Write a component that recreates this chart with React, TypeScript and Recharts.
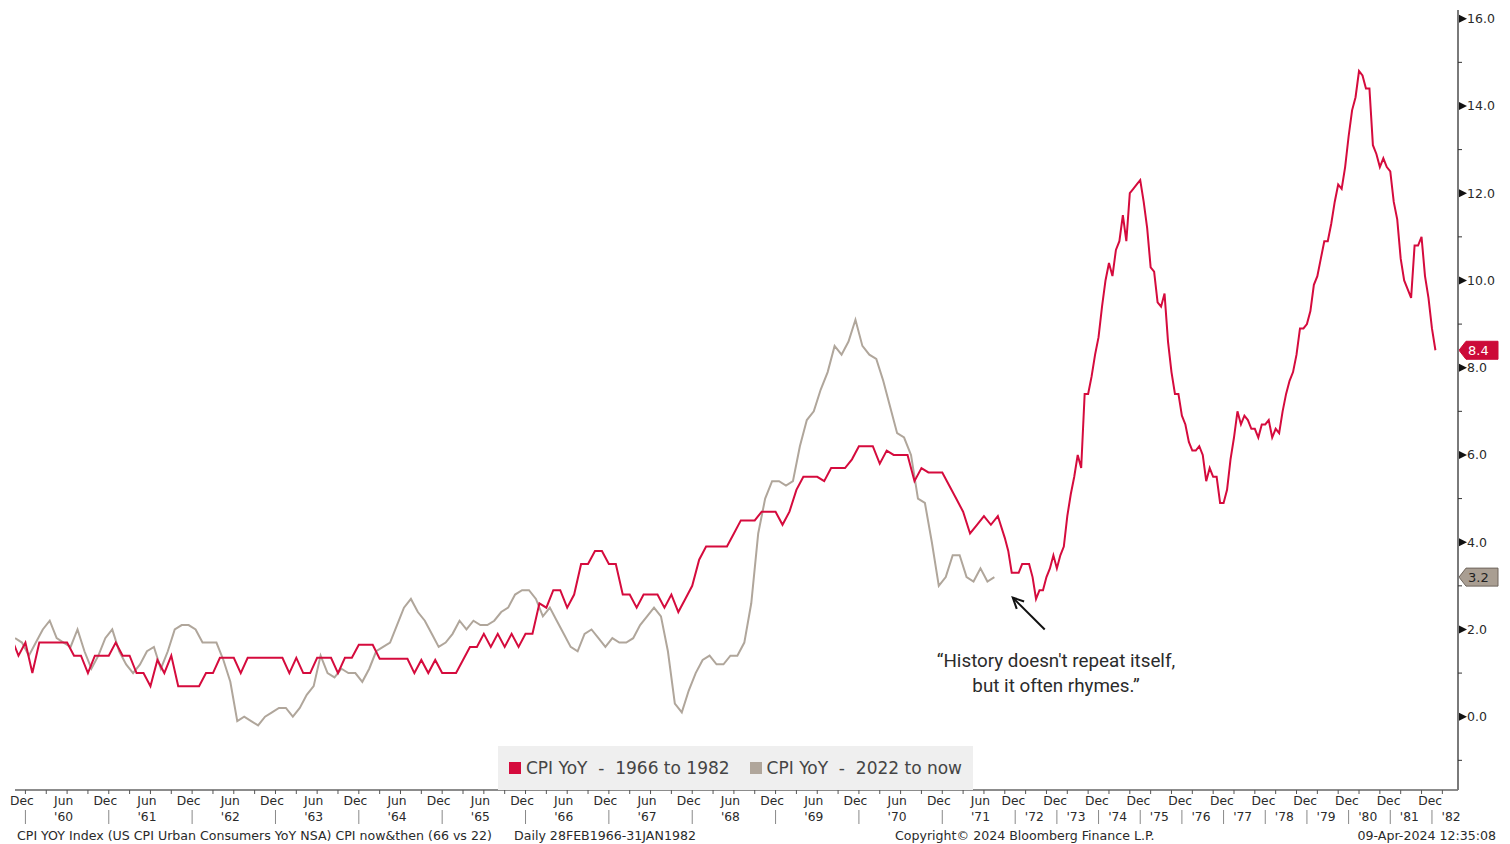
import { LineChart, Line, XAxis, YAxis, ReferenceLine } from 'recharts';

// US CPI YoY, monthly. Red: Oct 1959 .. Jan 1982, gray: May 2012 .. Feb 2024 (overlaid)
const red1959to1964 = [
  1.8, 1.4, 1.7,
  1.0, 1.7, 1.7, 1.7, 1.7, 1.7, 1.4, 1.4, 1.0, 1.4, 1.4, 1.4,
  1.7, 1.4, 1.4, 1.0, 1.0, 0.7, 1.3, 1.0, 1.4, 0.7, 0.7, 0.7,
  0.7, 1.0, 1.0, 1.35, 1.35, 1.35, 1.0, 1.35, 1.35, 1.35, 1.35, 1.35,
  1.35, 1.0, 1.35, 1.0, 1.0, 1.35, 1.35, 1.35, 1.0, 1.35, 1.35, 1.65,
  1.65, 1.65, 1.33, 1.33, 1.33, 1.33, 1.33, 1.0, 1.3, 1.0, 1.3, 1.0,
];
const red1965to1971 = [
  1.0, 1.0, 1.3, 1.6, 1.6, 1.9, 1.6, 1.9, 1.6, 1.9, 1.6, 1.9,
  1.9, 2.6, 2.5, 2.9, 2.9, 2.5, 2.8, 3.5, 3.5, 3.8, 3.8, 3.5,
  3.5, 2.8, 2.8, 2.5, 2.8, 2.8, 2.8, 2.5, 2.8, 2.4, 2.7, 3.0,
  3.6, 3.9, 3.9, 3.9, 3.9, 4.2, 4.5, 4.5, 4.5, 4.7, 4.7, 4.7,
  4.4, 4.7, 5.2, 5.5, 5.5, 5.5, 5.4, 5.7, 5.7, 5.7, 5.9, 6.2,
  6.2, 6.2, 5.8, 6.1, 6.0, 6.0, 6.0, 5.4, 5.7, 5.6, 5.6, 5.6,
  5.3, 5.0, 4.7, 4.2, 4.4, 4.6, 4.4, 4.6, 4.1, 3.8, 3.3, 3.3,
];
const red1972to1982 = [
  3.3, 3.5, 3.5, 3.5, 3.2, 2.7, 2.9, 2.9, 3.2, 3.4, 3.7, 3.4,
  3.7, 3.9, 4.6, 5.1, 5.5, 6.0, 5.7, 7.4, 7.4, 7.8, 8.3, 8.7,
  9.4, 10.0, 10.4, 10.1, 10.7, 10.9, 11.5, 10.9, 12.0, 12.1, 12.2, 12.3,
  11.8, 11.2, 10.3, 10.2, 9.5, 9.4, 9.7, 8.6, 7.9, 7.4, 7.4, 6.9,
  6.7, 6.3, 6.1, 6.1, 6.2, 6.0, 5.4, 5.7, 5.5, 5.5, 4.9, 4.9,
  5.2, 5.9, 6.4, 7.0, 6.7, 6.9, 6.8, 6.6, 6.6, 6.4, 6.7, 6.7,
  6.8, 6.4, 6.6, 6.5, 7.0, 7.4, 7.7, 7.9, 8.3, 8.9, 8.9, 9.0,
  9.3, 9.9, 10.1, 10.5, 10.9, 10.9, 11.3, 11.8, 12.2, 12.1, 12.6, 13.3,
  13.9, 14.2, 14.8, 14.7, 14.4, 14.4, 13.1, 12.9, 12.6, 12.8, 12.6, 12.5,
  11.8, 11.4, 10.5, 10.0, 9.8, 9.6, 10.8, 10.8, 11.0, 10.1, 9.6, 8.9,
  8.4,
];
const gray2012to2017 = [
  1.8, 1.7, 1.4, 1.7, 2.0, 2.2, 1.8, 1.7,
  1.6, 2.0, 1.5, 1.1, 1.4, 1.8, 2.0, 1.5, 1.2, 1.0, 1.2, 1.5,
  1.6, 1.1, 1.5, 2.0, 2.1, 2.1, 2.0, 1.7, 1.7, 1.7, 1.3, 0.8,
  -0.1, 0.0, -0.1, -0.2, 0.0, 0.1, 0.2, 0.2, 0.0, 0.2, 0.5, 0.7,
  1.4, 1.0, 0.9, 1.1, 1.0, 1.0, 0.8, 1.1, 1.5, 1.6, 1.7, 2.1,
  2.5, 2.7, 2.4, 2.2, 1.9, 1.6, 1.7, 1.9, 2.2, 2.0, 2.2, 2.1,
];
const gray2018to2024 = [
  2.1, 2.2, 2.4, 2.5, 2.8, 2.9, 2.9, 2.7, 2.3, 2.5, 2.2, 1.9,
  1.6, 1.5, 1.9, 2.0, 1.8, 1.6, 1.8, 1.7, 1.7, 1.8, 2.1, 2.3,
  2.5, 2.3, 1.5, 0.3, 0.1, 0.6, 1.0, 1.3, 1.4, 1.2, 1.2, 1.4,
  1.4, 1.7, 2.6, 4.2, 5.0, 5.4, 5.4, 5.3, 5.4, 6.2, 6.8, 7.0,
  7.5, 7.9, 8.5, 8.3, 8.6, 9.1, 8.5, 8.3, 8.2, 7.7, 7.1, 6.5,
  6.4, 6.0, 5.0, 4.9, 4.0, 3.0, 3.2, 3.7, 3.7, 3.2, 3.1, 3.4,
  3.1, 3.2,
];

const redCpi = [...red1959to1964, ...red1965to1971, ...red1972to1982];
const grayCpi = [...gray2012to2017, ...gray2018to2024];

// month offsets counted from Dec 1959
const RED_START = -2; // Oct 1959
const GRAY_START = -1.5; // May 2012, drawn half a month off the red months
const BREAK = 141; // Sep 1971, the axis is squeezed to half spacing after this

const monthPos = (m: number) => (m <= BREAK ? 2 * m : BREAK + m);
const midPos = (m: number) => monthPos(m) - (m <= BREAK ? 1 : 0.5);

const redData = redCpi.map((v, i) => ({ x: monthPos(RED_START + i), v }));
const grayData = grayCpi.map((v, i) => ({ x: monthPos(GRAY_START + i), v }));

const decLabelYears = Array.from({ length: 23 }, (_, i) => 1959 + i);
const junLabelYears = Array.from({ length: 12 }, (_, i) => 1960 + i);
const lateYearLabels = Array.from({ length: 11 }, (_, i) => 1972 + i);
const yTicks = Array.from({ length: 18 }, (_, i) => i - 1);

type XTickInfo = { top?: string; bottom?: string; sep?: boolean; mark?: boolean };
const xTickMap = new Map<number, XTickInfo>();
const addTick = (u: number, info: XTickInfo) =>
  xTickMap.set(u, { ...(xTickMap.get(u) || {}), ...info });

decLabelYears.forEach((y) => {
  const m = (y - 1959) * 12;
  addTick(midPos(m), { top: 'Dec' });
  addTick(monthPos(m), { sep: true });
});
junLabelYears.forEach((y) => {
  addTick(midPos((y - 1960) * 12 + 6), { top: 'Jun', bottom: `'${String(y).slice(2)}` });
});
lateYearLabels.forEach((y) => {
  addTick(midPos((y - 1960) * 12 + 6), { bottom: `'${String(y).slice(2)}` });
});
for (let m = 0; m <= 270; m += m < BREAK ? 3 : 6) {
  if (m > BREAK && m < 144) continue;
  addTick(monthPos(m), { mark: true });
}
const xTicks = [...xTickMap.keys()].sort((a, b) => a - b);

const RED = '#d50b3d';
const GRAY = '#b0a69b';
const FONT = '"DejaVu Sans", Verdana, sans-serif';
const TEXT = '#2a2a2a';

const arrowTail = { x: 293.5, y: 2.0 };
const arrowHead = { x: 284.3, y: 2.73 };

function XTick({ x, y, payload }: any) {
  const t = xTickMap.get(payload.value);
  if (!t) return null;
  return (
    <g style={{ fontFamily: FONT, fontSize: 12.3 }} fill={TEXT}>
      {t.mark && <line x1={x} x2={x} y1={y} y2={y + 4} stroke="#555" />}
      {t.top && (
        <text x={x} y={y + 15} textAnchor="middle">
          {t.top}
        </text>
      )}
      {t.bottom && (
        <text x={x} y={y + 31} textAnchor="middle">
          {t.bottom}
        </text>
      )}
      {t.sep && <line x1={x} x2={x} y1={y + 20} y2={y + 34} stroke="#888" />}
    </g>
  );
}

function YTick({ x, y, payload }: any) {
  const v = payload.value as number;
  if (v % 2 !== 0) {
    return <line x1={x} x2={x + 4} y1={y} y2={y} stroke="#333" />;
  }
  return (
    <g>
      <polygon points={`${x + 1},${y - 4} ${x + 9},${y} ${x + 1},${y + 4}`} fill="#111" />
      <text x={x + 9} y={y} dy="0.36em" fill={TEXT} style={{ fontFamily: FONT, fontSize: 12.5 }}>
        {v.toFixed(1)}
      </text>
    </g>
  );
}

function ValueTag({ viewBox, value, fill, color, stroke }: any) {
  const x = viewBox.x + viewBox.width;
  const y = viewBox.y;
  return (
    <g>
      <polygon
        points={`${x + 1},${y} ${x + 8},${y - 9} ${x + 40},${y - 9} ${x + 40},${y + 9} ${x + 8},${y + 9}`}
        fill={fill}
        stroke={stroke}
      />
      <text x={x + 10} y={y} dy="0.36em" fill={color} style={{ fontFamily: FONT, fontSize: 13 }}>
        {value.toFixed(1)}
      </text>
    </g>
  );
}

function ArrowShape({ x1, y1, x2, y2 }: any) {
  const ang = Math.atan2(y2 - y1, x2 - x1);
  const len = 12;
  const p1 = [x2 - len * Math.cos(ang - 0.45), y2 - len * Math.sin(ang - 0.45)];
  const p2 = [x2 - len * Math.cos(ang + 0.45), y2 - len * Math.sin(ang + 0.45)];
  return (
    <g stroke="#111" strokeWidth={2} fill="none">
      <line x1={x1} y1={y1} x2={x2} y2={y2} />
      <polyline points={`${p1[0]},${p1[1]} ${x2},${y2} ${p2[0]},${p2[1]}`} />
    </g>
  );
}

const legendItems = [
  { label: 'CPI YoY  -  1966 to 1982', color: RED },
  { label: 'CPI YoY  -  2022 to now', color: GRAY },
];

const footStyle = {
  position: 'absolute' as const,
  top: 828,
  fontSize: 12.6,
  color: TEXT,
  whiteSpace: 'pre' as const,
};

export default function App() {
  const lastRed = redCpi[redCpi.length - 1];
  const lastGray = grayCpi[grayCpi.length - 1];
  return (
    <div
      style={{
        position: 'absolute',
        left: 0,
        top: 0,
        width: 1510,
        height: 844,
        background: '#fff',
        overflow: 'hidden',
        fontFamily: FONT,
      }}
    >
      <LineChart width={1510} height={844} margin={{ top: 10, right: 0, bottom: 14, left: 15 }}>
        <XAxis
          type="number"
          dataKey="x"
          domain={[-3, 412.5]}
          allowDataOverflow
          ticks={xTicks}
          interval={0}
          tick={<XTick />}
          tickLine={false}
          tickSize={0}
          tickMargin={0}
          height={40}
          axisLine={{ stroke: '#666', strokeWidth: 1.5 }}
        />
        <YAxis
          orientation="right"
          type="number"
          domain={[-1.68, 16.2]}
          allowDataOverflow
          ticks={yTicks}
          interval={0}
          tick={<YTick />}
          tickLine={false}
          tickSize={0}
          tickMargin={0}
          width={52}
          axisLine={{ stroke: '#7a7a7a', strokeWidth: 2 }}
        />
        <Line
          data={grayData}
          dataKey="v"
          type="linear"
          stroke={GRAY}
          strokeWidth={2}
          dot={false}
          isAnimationActive={false}
        />
        <Line
          data={redData}
          dataKey="v"
          type="linear"
          stroke={RED}
          strokeWidth={2}
          dot={false}
          isAnimationActive={false}
        />
        <ReferenceLine
          segment={[arrowTail, arrowHead]}
          ifOverflow="visible"
          shape={(p: any) => <ArrowShape {...p} />}
        />
        <ReferenceLine
          y={lastRed}
          stroke="none"
          ifOverflow="visible"
          label={<ValueTag value={lastRed} fill="#cc0a38" color="#fff" stroke="#cc0a38" />}
        />
        <ReferenceLine
          y={lastGray}
          stroke="none"
          ifOverflow="visible"
          label={<ValueTag value={lastGray} fill="#a99e92" color="#222" stroke="#6e655c" />}
        />
      </LineChart>

      <div
        style={{
          position: 'absolute',
          left: 498,
          top: 746,
          width: 475,
          height: 44,
          background: '#efefef',
          display: 'flex',
          alignItems: 'center',
          fontSize: 17,
          color: '#454545',
          whiteSpace: 'pre',
        }}
      >
        {legendItems.map((it, i) => (
          <div key={i} style={{ display: 'flex', alignItems: 'center', marginLeft: i === 0 ? 11 : 20 }}>
            <span style={{ width: 12, height: 12, background: it.color, marginRight: 5, display: 'inline-block' }} />
            <span>{it.label}</span>
          </div>
        ))}
      </div>

      <div
        style={{
          position: 'absolute',
          left: 900,
          top: 649,
          width: 312,
          textAlign: 'center',
          fontFamily: 'Roboto, sans-serif',
          fontSize: 18.8,
          lineHeight: '25px',
          color: '#2b2b2b',
        }}
      >
        “History doesn't repeat itself,
        <br />
        but it often rhymes.”
      </div>

      <div style={{ ...footStyle, left: 17 }}>
        CPI YOY Index (US CPI Urban Consumers YoY NSA) CPI now&amp;then (66 vs 22)
      </div>
      <div style={{ ...footStyle, left: 514 }}>Daily 28FEB1966-31JAN1982</div>
      <div style={{ ...footStyle, left: 895 }}>Copyright© 2024 Bloomberg Finance L.P.</div>
      <div style={{ ...footStyle, right: 14 }}>09-Apr-2024 12:35:08</div>
    </div>
  );
}
